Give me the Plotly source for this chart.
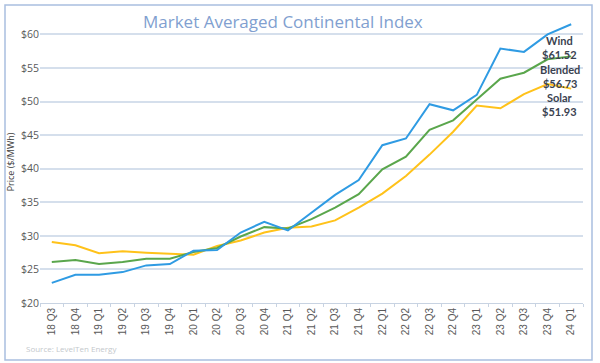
import plotly.graph_objects as go

quarters = ["18 Q3", "18 Q4", "19 Q1", "19 Q2", "19 Q3", "19 Q4", "20 Q1", "20 Q2",
            "20 Q3", "20 Q4", "21 Q1", "21 Q2", "21 Q3", "21 Q4", "22 Q1", "22 Q2",
            "22 Q3", "22 Q4", "23 Q1", "23 Q2", "23 Q3", "23 Q4", "24 Q1"]
wind = [23.0, 24.2, 24.2, 24.6, 25.6, 25.8, 27.8, 27.9, 30.5, 32.1, 30.8, 33.5,
        36.1, 38.3, 43.5, 44.5, 49.6, 48.7, 51.0, 57.9, 57.4, 60.0, 61.52]
blended = [26.1, 26.4, 25.8, 26.1, 26.6, 26.6, 27.6, 28.2, 29.9, 31.3, 31.1, 32.5,
           34.2, 36.2, 39.9, 41.8, 45.8, 47.2, 50.3, 53.4, 54.3, 56.3, 56.73]
solar = [29.1, 28.6, 27.4, 27.7, 27.5, 27.3, 27.2, 28.5, 29.3, 30.5, 31.2, 31.4,
         32.3, 34.2, 36.3, 38.9, 42.1, 45.5, 49.4, 49.0, 51.1, 52.6, 51.93]
y_ticks = [20, 25, 30, 35, 40, 45, 50, 55, 60]
y_tick_labels = ["$20", "$25", "$30", "$35", "$40", "$45", "$50", "$55", "$60"]
end_labels = ["Wind<br>$61.52", "Blended<br>$56.73", "Solar<br>$51.93"]
end_label_y = [58.0, 53.7, 49.5]

fig = go.Figure()
fig.add_trace(go.Scatter(x=quarters, y=solar, mode="lines", name="Solar",
                         line=dict(color="#ffc21a", width=2)))
fig.add_trace(go.Scatter(x=quarters, y=blended, mode="lines", name="Blended",
                         line=dict(color="#5aa64c", width=2)))
fig.add_trace(go.Scatter(x=quarters, y=wind, mode="lines", name="Wind",
                         line=dict(color="#2f9be3", width=2)))

for txt, yv in zip(end_labels, end_label_y):
    fig.add_annotation(x=quarters[-2], y=yv, text="<b>" + txt + "</b>", showarrow=False,
                       xshift=12, align="center",
                       font=dict(family="Lato", size=11, color="#3a4250"))

fig.add_annotation(xref="paper", yref="paper", x=(283 - 40) / 543, y=(303 - 22) / 282,
                   text="Market Averaged Continental Index",
                   showarrow=False, xanchor="center", yanchor="middle",
                   font=dict(family="Open Sans", size=17, color="#819fd0"))
fig.add_annotation(xref="paper", yref="paper", x=(24 - 40) / 543, y=(303 - 348) / 282,
                   text="Source: LevelTen Energy",
                   showarrow=False, xanchor="left", yanchor="middle",
                   font=dict(family="Open Sans", size=8, color="#c4c8cc"))

fig.add_shape(type="rect", xref="paper", yref="paper",
              x0=(5 - 40) / 543, x1=(592 - 40) / 543,
              y0=(303 - 360) / 282, y1=(303 - 5) / 282,
              line=dict(color="#a9bfe0", width=1.5), fillcolor="rgba(0,0,0,0)", layer="below")

fig.update_layout(
    width=600, height=363,
    margin=dict(l=40, r=17, t=21, b=60),
    paper_bgcolor="white", plot_bgcolor="white",
    showlegend=False,
    font=dict(family="Open Sans", color="#595959"),
    xaxis=dict(type="category", tickangle=-90, tickfont=dict(family="Liberation Sans", size=10, color="#595959"),
               showgrid=False, showline=True, linecolor="#c8d3e2", linewidth=1,
               ticks="outside", ticklen=3, tickcolor="#c8d3e2", tickson="boundaries",
               range=[-0.5, len(quarters) - 0.5]),
    yaxis=dict(range=[20, 62], tickvals=y_ticks, ticktext=y_tick_labels,
               tickfont=dict(family="Open Sans", size=10.5, color="#595959"),
               showgrid=True, gridcolor="#d5dfec", gridwidth=1.5, zeroline=False,
               ticks="", title=dict(text="Price ($/MWh)", standoff=4,
                                    font=dict(family="Open Sans", size=9, color="#404040"))),
)

fig.write_html("out.html", config={"displayModeBar": False},
               post_script="document.body.style.margin='0';")
